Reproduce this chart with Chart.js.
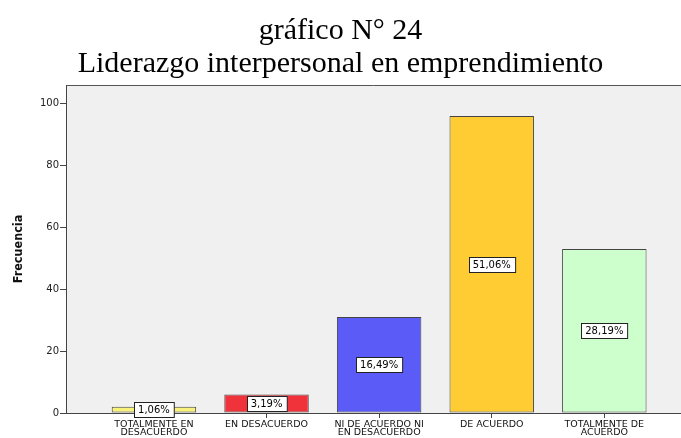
<!DOCTYPE html>
<html>
<head>
<meta charset="utf-8">
<script src="https://cdn.jsdelivr.net/npm/chart.js@4/dist/chart.umd.min.js"></script>
<style>
  html, body { margin: 0; padding: 0; background: #ffffff; }
  #wrap { width: 681px; height: 438px; }
</style>
</head>
<body>
<div id="wrap"><canvas id="c" width="681" height="438"></canvas></div>
<script>
// ---- data ----
const titleLines = ["gráfico N° 24", "Liderazgo interpersonal en emprendimiento"];
const yAxisTitle = "Frecuencia";
const categories = [
  ["TOTALMENTE EN", "DESACUERDO"],
  ["EN DESACUERDO"],
  ["NI DE ACUERDO NI", "EN DESACUERDO"],
  ["DE ACUERDO"],
  ["TOTALMENTE DE", "ACUERDO"]
];
const frequencies = [2, 6, 31, 96, 53];
const percentLabels = ["1,06%", "3,19%", "16,49%", "51,06%", "28,19%"];
const yTicks = [0, 20, 40, 60, 80, 100];
const barColors = ["#F8F27A", "#F0333B", "#5B5BF8", "#FFCC33", "#CCFFCC"];

// category positions on the index axis (1..n)
const positions = categories.map((_, i) => i + 1);

const plotBg = {
  id: 'plotBg',
  beforeDraw(chart) {
    const { ctx, chartArea: a } = chart;
    ctx.save();
    ctx.fillStyle = '#F0F0F0';
    ctx.fillRect(a.left, a.top, a.right - a.left, a.bottom - a.top);
    ctx.strokeStyle = '#555555';
    ctx.lineWidth = 1;
    ctx.beginPath();
    ctx.moveTo(a.left, Math.round(a.top) + 0.5);
    ctx.lineTo(a.right, Math.round(a.top) + 0.5);
    ctx.stroke();
    ctx.restore();
  }
};

const boxLabels = {
  id: 'boxLabels',
  afterDatasetsDraw(chart) {
    const { ctx } = chart;
    const meta = chart.getDatasetMeta(0);
    ctx.save();
    ctx.font = '10px "DejaVu Sans"';
    ctx.textAlign = 'center';
    ctx.textBaseline = 'middle';
    meta.data.forEach((bar, i) => {
      const p = bar.getProps(['x', 'y', 'base'], true);
      const cx = p.x;
      const cy = (p.y + p.base) / 2;
      const txt = percentLabels[i];
      const w = ctx.measureText(txt).width + 8;
      const h = 15;
      const lx = Math.round(cx - w / 2) + 0.5;
      const ly = Math.round(cy - h / 2) + 0.5;
      ctx.fillStyle = '#ffffff';
      ctx.fillRect(lx, ly, w, h);
      ctx.strokeStyle = '#222222';
      ctx.lineWidth = 1;
      ctx.strokeRect(lx, ly, w, h);
      ctx.fillStyle = '#000000';
      ctx.fillText(txt, cx, ly + h / 2 + 0.5);
    });
    ctx.restore();
  }
};

new Chart(document.getElementById('c'), {
  type: 'bar',
  data: {
    datasets: [{
      data: positions.map((x, i) => ({ x: x, y: frequencies[i] })),
      backgroundColor: barColors,
      borderColor: '#444444',
      borderWidth: 1,
      borderSkipped: false,
      barPercentage: 0.75,
      categoryPercentage: 1
    }]
  },
  options: {
    responsive: false,
    animation: false,
    layout: { padding: 0 },
    plugins: {
      legend: { display: false },
      tooltip: { enabled: false },
      title: {
        display: true,
        text: titleLines,
        color: '#000000',
        font: { family: '"Liberation Serif", "Times New Roman", serif', size: 30, weight: 'normal', lineHeight: 1.1 },
        padding: { top: 14.5, bottom: 4.5 }
      }
    },
    scales: {
      x: {
        type: 'linear',
        offset: false,
        min: 0.219,
        max: 5.681,
        afterBuildTicks(scale) { scale.ticks = positions.map(v => ({ value: v })); },
        afterFit(scale) { scale.height = 25; },
        grid: { display: true, offset: false, drawOnChartArea: false, drawTicks: true, tickLength: 5, color: '#444444' },
        border: { display: true, color: '#444444', width: 1 },
        ticks: {
          autoSkip: false,
          maxRotation: 0,
          padding: 3,
          color: '#111111',
          font: { family: '"DejaVu Sans"', size: 9.5, lineHeight: 0.8 },
          callback(value) {
            const idx = positions.indexOf(value);
            return idx >= 0 ? categories[idx] : '';
          }
        }
      },
      y: {
        min: 0,
        max: 106,
        afterBuildTicks(scale) { scale.ticks = yTicks.map(v => ({ value: v })); },
        afterFit(scale) { scale.width = 66; },
        grid: { display: true, drawOnChartArea: false, drawTicks: true, tickLength: 6, color: '#444444' },
        border: { display: true, color: '#444444', width: 1 },
        ticks: {
          padding: 1,
          color: '#222222',
          font: { family: '"DejaVu Sans"', size: 10 }
        },
        title: {
          display: true,
          text: yAxisTitle,
          color: '#111111',
          font: { family: '"Liberation Sans Narrow", "DejaVu Sans Condensed", "Liberation Sans", sans-serif', size: 12.5, weight: 'bold', lineHeight: 1.2 },
          padding: { top: 11, bottom: 0 }
        }
      }
    }
  },
  plugins: [plotBg, boxLabels]
});
</script>
</body>
</html>
